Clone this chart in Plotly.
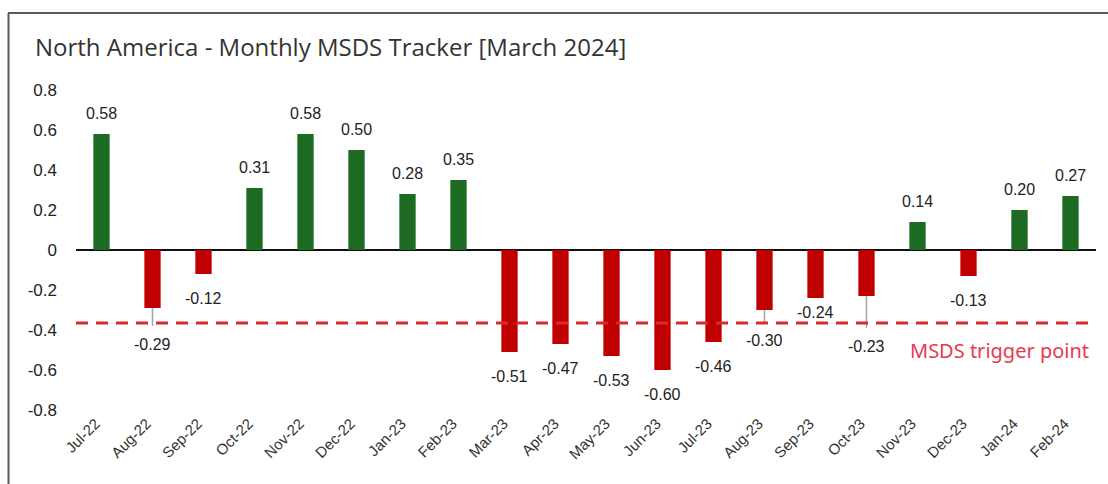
import plotly.graph_objects as go

# ---- data ----
months = ["Jul-22", "Aug-22", "Sep-22", "Oct-22", "Nov-22", "Dec-22", "Jan-23", "Feb-23",
          "Mar-23", "Apr-23", "May-23", "Jun-23", "Jul-23", "Aug-23", "Sep-23", "Oct-23",
          "Nov-23", "Dec-23", "Jan-24", "Feb-24"]
msds = [0.58, -0.29, -0.12, 0.31, 0.58, 0.50, 0.28, 0.35,
        -0.51, -0.47, -0.53, -0.60, -0.46, -0.30, -0.24, -0.23,
        0.14, -0.13, 0.20, 0.27]
leader_down = [0, 0.09, 0, 0, 0, 0, 0, 0,
               0, 0, 0, 0, 0, 0.06, 0, 0.16,
               0, 0, 0, 0]
trigger_point = -0.365
y_ticks = [0.8, 0.6, 0.4, 0.2, 0, -0.2, -0.4, -0.6, -0.8]
y_tick_labels = ["0.8", "0.6", "0.4", "0.2", "0", "-0.2", "-0.4", "-0.6", "-0.8"]

GREEN = "#1d6b23"
RED = "#c00000"

W, H = 1108, 484
L, R, T, B = 76, 12, 80, 64
PW, PH = W - L - R, H - T - B

# label placement tweaks (pixels), Excel nudged one label to stay clear of the line
label_shift_override = {"Sep-23": -14}

colors = [GREEN if v >= 0 else RED for v in msds]

fig = go.Figure()
fig.add_trace(go.Bar(
    x=months, y=msds, marker=dict(color=colors, line=dict(width=0)),
    width=0.32,
    error_y=dict(type="data", symmetric=False, array=[0] * len(msds),
                 arrayminus=leader_down, width=0, thickness=1.5, color="#a6a6a6"),
    hoverinfo="x+y",
))

annotations = []
for m, v, d in zip(months, msds, leader_down):
    if v >= 0:
        y_anchor, shift = v, 21
    else:
        y_anchor = v - d
        shift = -24 if d == 0 else -18
    shift = label_shift_override.get(m, shift)
    annotations.append(dict(x=m, y=y_anchor, xref="x", yref="y", text=f"{v:.2f}",
                            showarrow=False, yanchor="middle", yshift=shift,
                            font=dict(family="Liberation Sans, Arial", size=16, color="#222")))

annotations.append(dict(x=1, y=trigger_point, xref="x domain", yref="y",
                        text="MSDS trigger point", showarrow=False,
                        xanchor="right", yanchor="middle", xshift=-5, yshift=-27,
                        font=dict(family="Noto Sans", size=20, color="#e8394f")))


def px_x(p):
    return (p - L) / PW


def px_y(p):
    return (H - B - p) / PH


annotations.append(dict(x=px_x(33), y=px_y(47), xref="paper", yref="paper",
                        text="North America - Monthly MSDS Tracker [March 2024]",
                        showarrow=False, xanchor="left", yanchor="middle",
                        font=dict(family="Open Sans", size=24, color="#333")))

shapes = [
    dict(type="line", xref="x domain", yref="y", x0=0, x1=1,
         y0=trigger_point, y1=trigger_point,
         line=dict(color="#d9282f", width=3, dash="12px,8px")),
    dict(type="line", xref="paper", yref="paper", x0=px_x(8.5), x1=px_x(8.5),
         y0=px_y(13), y1=px_y(484), line=dict(color="#5a5a5a", width=2)),
    dict(type="line", xref="paper", yref="paper", x0=px_x(8), x1=px_x(1108),
         y0=px_y(13), y1=px_y(13), line=dict(color="#5a5a5a", width=2)),
]

fig.update_layout(
    width=W, height=H,
    margin=dict(l=L, r=R, t=T, b=B, pad=0),
    paper_bgcolor="white", plot_bgcolor="white",
    showlegend=False,
    annotations=annotations,
    shapes=shapes,
    xaxis=dict(type="category", categoryorder="array", categoryarray=months,
               range=[-0.5, len(months) - 0.5], tickangle=-45,
               showgrid=False, showline=False, ticks="",
               tickfont=dict(family="Liberation Sans, Arial", size=15, color="#333"),
               ticklabelstandoff=-9, ticklabelshift=-6, automargin=False),
    yaxis=dict(range=[-0.85, 0.85], tickvals=y_ticks, ticktext=y_tick_labels,
               showgrid=False, showline=False, ticks="",
               zeroline=True, zerolinecolor="#111", zerolinewidth=1.5,
               tickfont=dict(family="Liberation Sans, Arial", size=17, color="#222"),
               ticklabelstandoff=18, automargin=False),
)

fig.write_html("out.html", config={"displayModeBar": False},
               post_script="document.body.style.margin='0';document.body.style.overflow='hidden';")
